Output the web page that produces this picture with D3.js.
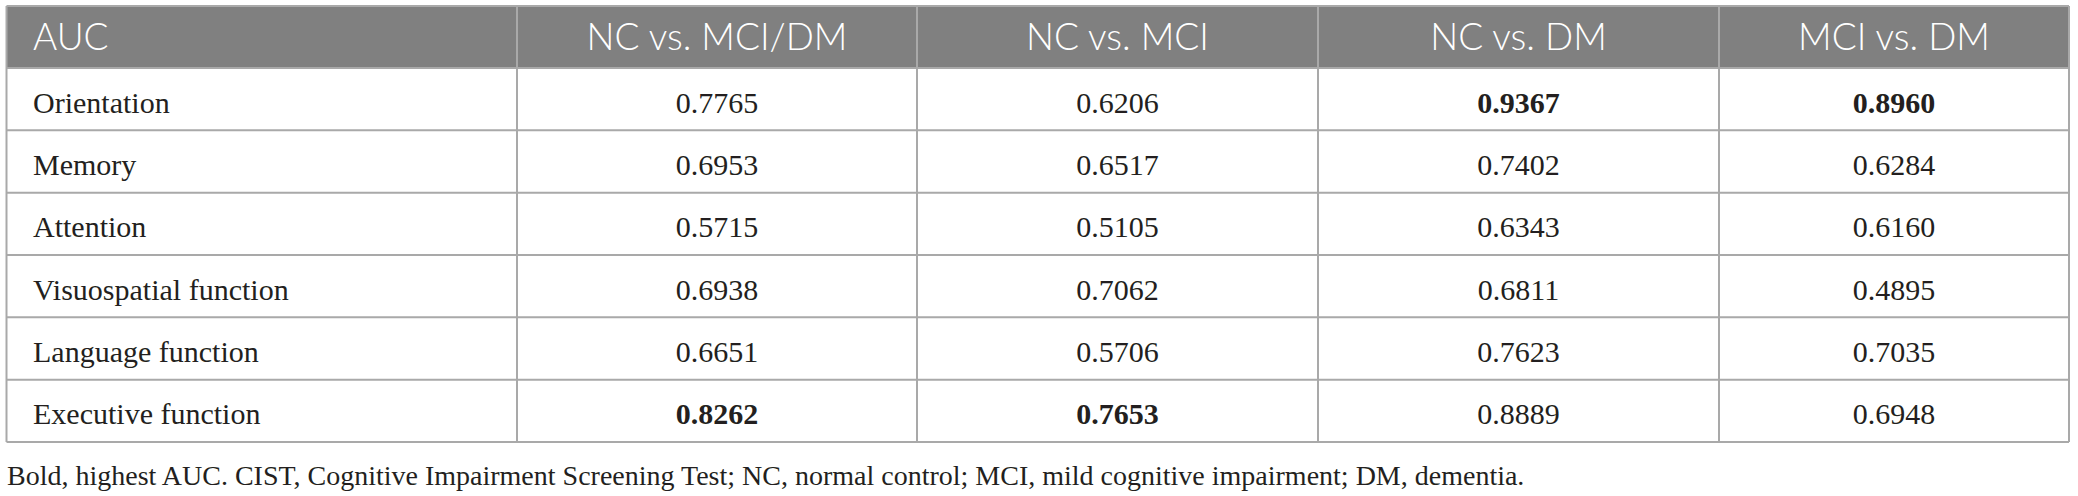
<!DOCTYPE html>
<html>
<head>
<meta charset="utf-8">
<script src="https://cdn.jsdelivr.net/npm/d3@7"></script>
<style>
  body { margin: 0; background: #fff; }
</style>
</head>
<body>
<div id="table"></div>
<script>
// table values
var metrics = ["Orientation", "Memory", "Attention", "Visuospatial function", "Language function", "Executive function"];
var comparisons = ["NC vs. MCI/DM", "NC vs. MCI", "NC vs. DM", "MCI vs. DM"];
var ncVsMciDm = [0.7765, 0.6953, 0.5715, 0.6938, 0.6651, 0.8262];
var ncVsMci   = [0.6206, 0.6517, 0.5105, 0.7062, 0.5706, 0.7653];
var ncVsDm    = [0.9367, 0.7402, 0.6343, 0.6811, 0.7623, 0.8889];
var mciVsDm   = [0.8960, 0.6284, 0.6160, 0.4895, 0.7035, 0.6948];
var footnote = "Bold, highest AUC. CIST, Cognitive Impairment Screening Test; NC, normal control; MCI, mild cognitive impairment; DM, dementia.";

var series = [ncVsMciDm, ncVsMci, ncVsDm, mciVsDm];

var width = 2078, height = 496;
var tblLeft = 6.5, tblTop = 6, tblBottom = 442, headH = 62;
var colWidths = [510.5, 400, 401, 401, 350];
var gridColor = "#a9a9a9";
var fmt = d3.format(".4f");

var svg = d3.select("#table")
        .append("svg")
        .attr("width", width)
        .attr("height", height);

// column edges from widths
var edges = [tblLeft];
colWidths.forEach(function (w, i) { edges.push(edges[i] + w); });
var tblRight = edges[edges.length - 1];

var y = d3.scaleBand()
        .domain(metrics)
        .range([tblTop + headH, tblBottom]);

// header
svg.append("rect")
        .attr("x", tblLeft)
        .attr("y", tblTop)
        .attr("width", tblRight - tblLeft)
        .attr("height", headH)
        .attr("fill", "#808080");

var headers = ["AUC"].concat(comparisons);
svg.selectAll("text.head")
        .data(headers)
        .enter()
        .append("text")
        .attr("class", "head")
        .attr("x", function (d, i) { return i === 0 ? edges[0] + 26.5 : (edges[i] + edges[i + 1]) / 2; })
        .attr("y", tblTop + headH / 2 + 12.5)
        .attr("text-anchor", function (d, i) { return i === 0 ? "start" : "middle"; })
        .attr("fill", "#ffffff")
        .attr("font-family", "Lato, sans-serif")
        .attr("font-weight", 300)
        .attr("font-size", "37px")
        .text(function (d) { return d; });

// row labels
svg.selectAll("text.label")
        .data(metrics)
        .enter()
        .append("text")
        .attr("class", "label")
        .attr("x", edges[0] + 26.5)
        .attr("y", function (d) { return y(d) + y.bandwidth() / 2 + 13.5; })
        .attr("fill", "#231f20")
        .attr("font-family", "'Liberation Serif', serif")
        .attr("font-size", "30px")
        .text(function (d) { return d; });

// value cells, bold = highest in its column
series.forEach(function (vals, c) {
    var best = d3.max(vals);
    svg.selectAll("text.v" + c)
        .data(vals)
        .enter()
        .append("text")
        .attr("class", "v" + c)
        .attr("x", (edges[c + 1] + edges[c + 2]) / 2)
        .attr("y", function (d, i) { return y(metrics[i]) + y.bandwidth() / 2 + 13.5; })
        .attr("text-anchor", "middle")
        .attr("fill", "#231f20")
        .attr("font-family", "'Liberation Serif', serif")
        .attr("font-size", "30px")
        .attr("font-weight", function (d) { return d === best ? "bold" : "normal"; })
        .text(function (d) { return fmt(d); });
});

// grid lines
var hy = [tblTop, tblTop + headH].concat(metrics.map(function (m) { return y(m) + y.bandwidth(); }));
svg.selectAll("line.h")
        .data(hy)
        .enter()
        .append("line")
        .attr("class", "h")
        .attr("x1", tblLeft)
        .attr("x2", tblRight)
        .attr("y1", function (d) { return d; })
        .attr("y2", function (d) { return d; })
        .attr("stroke", gridColor)
        .attr("stroke-width", 2);

svg.selectAll("line.v")
        .data(edges)
        .enter()
        .append("line")
        .attr("class", "v")
        .attr("x1", function (d) { return d; })
        .attr("x2", function (d) { return d; })
        .attr("y1", tblTop)
        .attr("y2", tblBottom)
        .attr("stroke", gridColor)
        .attr("stroke-width", 2);

svg.append("text")
        .attr("x", 7)
        .attr("y", 485)
        .attr("fill", "#231f20")
        .attr("font-family", "'Liberation Serif', serif")
        .attr("font-size", "28px")
        .text(footnote);
</script>
</body>
</html>
